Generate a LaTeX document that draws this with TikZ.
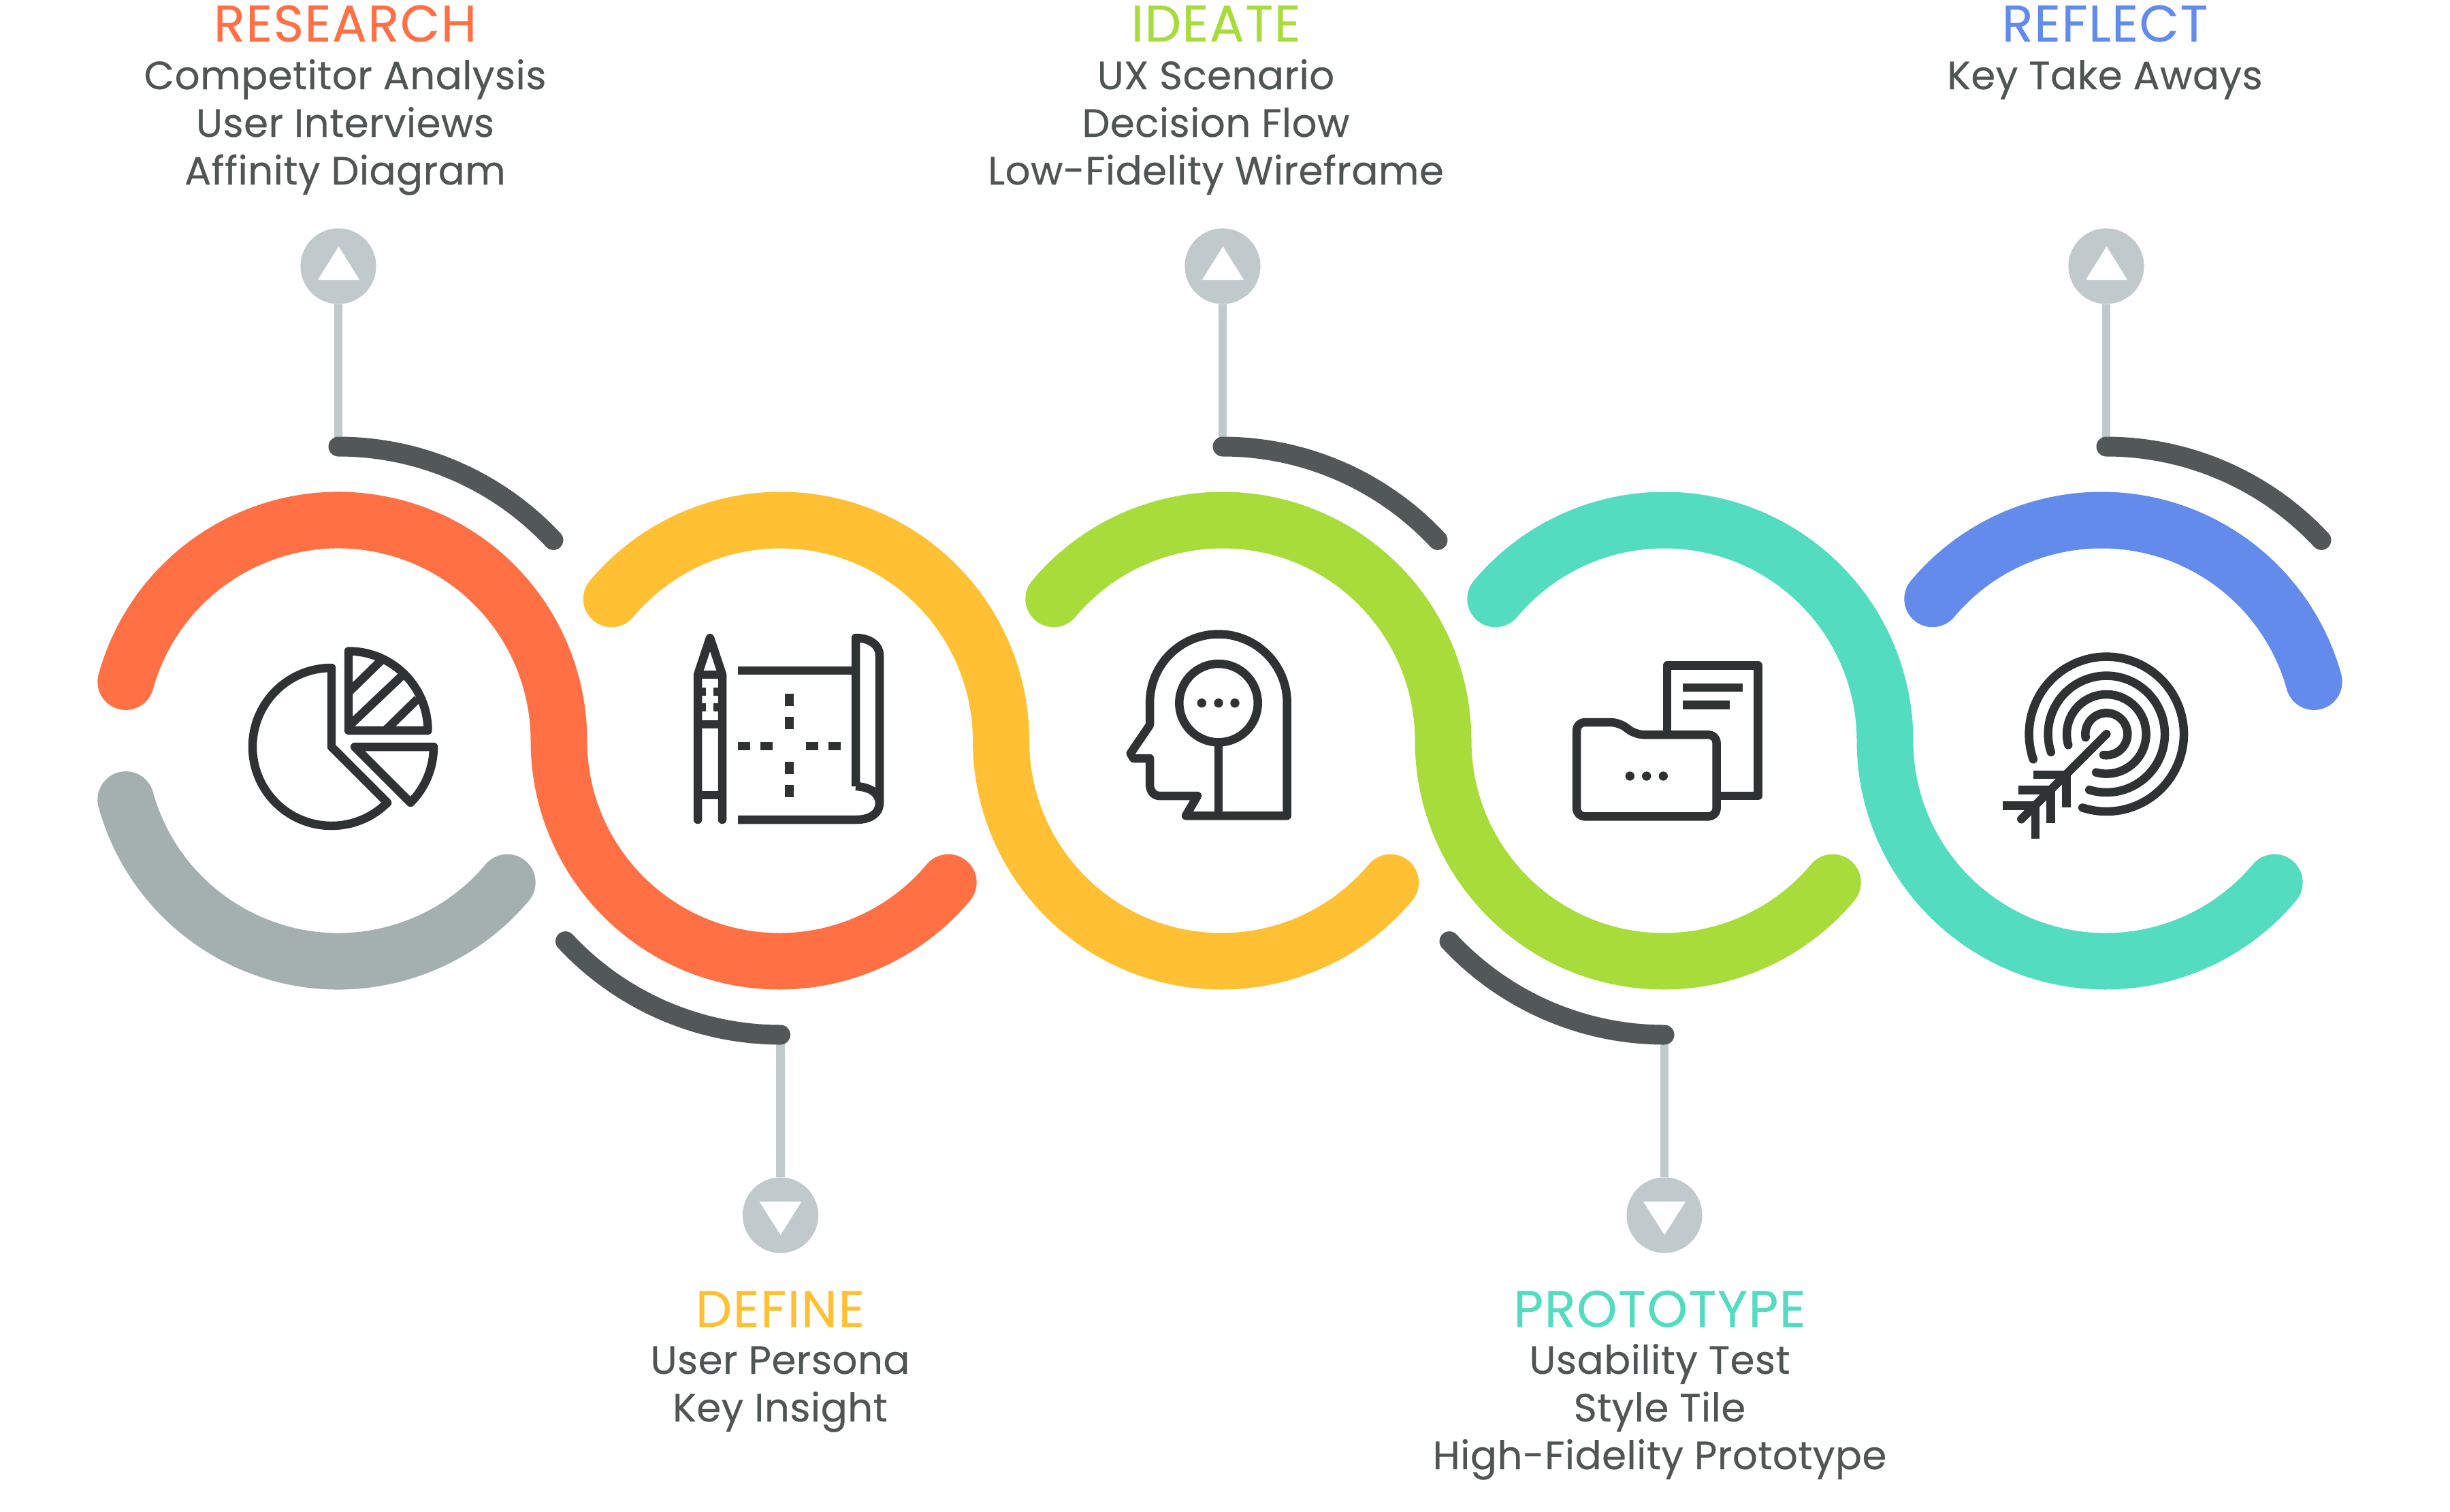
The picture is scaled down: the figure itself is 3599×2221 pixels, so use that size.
\documentclass[tikz,border=0pt]{standalone}
\usepackage{fontspec}
\setmainfont{Poppins}
\definecolor{cOrange}{HTML}{FF7145}
\definecolor{cYellow}{HTML}{FFC033}
\definecolor{cGreen}{HTML}{A8DC3B}
\definecolor{cTeal}{HTML}{54DCC0}
\definecolor{cBlue}{HTML}{628BEB}
\definecolor{cGrey}{HTML}{A4AFAF}
\definecolor{cDark}{HTML}{525857}
\definecolor{cStem}{HTML}{C0C9CB}
\definecolor{cIcon}{HTML}{2E3233}
\definecolor{cText}{HTML}{4F5554}
\tikzset{
  band/.style={line width=23.6pt,line cap=round},
  darkarc/.style={draw=cDark,line width=8.25pt,line cap=round},
  stem/.style={draw=cStem,line width=3.6pt},
  badge/.style={circle,fill=cStem,minimum size=31.6pt,inner sep=0pt},
  icon/.style={draw=cIcon,line width=3.55pt,line join=round},
  iconround/.style={icon,line cap=round},
  idot/.style={fill=cIcon},
  headtxt/.style={anchor=base,inner sep=0pt,font=\fontsize{21.5}{24}\selectfont\addfontfeature{LetterSpace=2,FakeBold=0.3}},
  bodytxt/.style={anchor=base,inner sep=0pt,text=cText,font=\fontsize{16.45}{20}\selectfont\addfontfeature{LetterSpace=0.8,FakeBold=0.3}},
}
\begin{document}
\begin{tikzpicture}[x=0.01cm,y=-0.01cm]
\useasboundingbox (0,0) rectangle (3599,2221);
\fill[white] (0,0) rectangle (3599,2221);
% ring centres
\coordinate (c1) at (497,1088);
\coordinate (c2) at (1146.5,1088);
\coordinate (c3) at (1796,1088);
\coordinate (c4) at (2445,1088);
\coordinate (c5) at (3087,1088);
% badges and stems
\node[badge] (b1) at (497,391) {};
\node[badge] (b3) at (1796,391) {};
\node[badge] (b5) at (3094,391) {};
\node[badge] (b2) at (1146.5,1785) {};
\node[badge] (b4) at (2445,1785) {};
\coordinate (d1) at (497,656);
\coordinate (d3) at (1796,656);
\coordinate (d5) at (3094,656);
\coordinate (d2) at (1146.5,1520);
\coordinate (d4) at (2445,1520);
\foreach \n in {1,2,3,4,5} \draw[stem] (b\n) -- (d\n);
\foreach \n in {1,3,5} \fill[white] (b\n) ++(-30,20) -- ++(61,0) -- ++(-30.5,-49) -- cycle;
\foreach \n in {2,4} \fill[white] (b\n) ++(-31,-20) -- ++(62,0) -- ++(-31,49) -- cycle;
% dark arcs
\foreach \n in {1,3,5} \draw[darkarc] (d\n) arc[start angle=-90,end angle=-43,radius=432];
\foreach \n in {2,4} \draw[darkarc] (d\n) arc[start angle=90,end angle=137,radius=432];
% bands
\draw[band,cGrey] (c1) ++(164.5:324) arc[start angle=164.5,end angle=40,radius=324];
\draw[band,cOrange] (c1) ++(-164.5:324) arc[start angle=-164.5,end angle=0,radius=324] arc[start angle=180,end angle=40,radius=324];
\draw[band,cYellow] (c2) ++(-140:324) arc[start angle=-140,end angle=0,radius=324] arc[start angle=180,end angle=40,radius=324];
\draw[band,cGreen] (c3) ++(-140:324) arc[start angle=-140,end angle=0,radius=324] arc[start angle=180,end angle=40,radius=324];
\draw[band,cTeal] (c4) ++(-140:324) arc[start angle=-140,end angle=0,radius=324] arc[start angle=180,end angle=40,radius=324];
\draw[band,cBlue] (c5) ++(-140:324) arc[start angle=-140,end angle=-15.5,radius=324];
% pie icon
\draw[icon] (487,1097) -- (487,981) arc[start angle=-90,end angle=-315,radius=116] -- cycle;
\draw[icon] (512,1073) -- (512,956.5) arc[start angle=-90,end angle=0,radius=116.5] -- cycle;
\draw[icon] (512,1017) -- (560,970);
\draw[icon] (512,1067) -- (590,993);
\draw[icon] (567,1072) -- (613,1027);
\draw[icon] (521,1097) -- (637,1097) arc[start angle=0,end angle=45,radius=116] -- cycle;
% plan icon
\draw[iconround] (1025,1204) -- (1025,991) -- (1043,937) -- (1061,991) -- (1061,1204);
\draw[icon] (1025,991) -- (1061,991) (1025,1064) -- (1061,1064) (1025,1168) -- (1061,1168);
\draw[icon] (1025,1016) -- (1037,1016) (1061,1016) -- (1048,1016) (1025,1039) -- (1037,1039) (1061,1039) -- (1048,1039);
\draw[icon] (1084,985) -- (1257,985);
\draw[icon] (1257,1155) -- (1257,937) .. controls (1278,937) and (1292,948) .. (1292,962) -- (1292,1180) .. controls (1292,1195) and (1278,1204) .. (1258,1204) -- (1084,1204);
\draw[icon] (1257,1155) .. controls (1278,1156) and (1292,1165) .. (1292,1180);
\draw[icon] (1159.5,1019) -- (1159.5,1037) (1159.5,1053) -- (1159.5,1071) (1159.5,1119) -- (1159.5,1137) (1159.5,1153) -- (1159.5,1171);
\draw[icon] (1084,1096) -- (1102,1096) (1117,1096) -- (1135,1096) (1184,1096) -- (1202,1096) (1217,1096) -- (1235,1096);
% head icon
\draw[icon] (1890.7,1198.3) -- (1890.7,1032.3) arc[start angle=0,end angle=-180,radius=100.8] -- (1689,1065) -- (1660.7,1106.7) -- (1665,1114) -- (1689,1114) -- (1689,1151.7) .. controls (1689,1162) and (1695,1169) .. (1703,1169) -- (1759,1169) -- (1742,1198.3) -- cycle;
\draw[icon] (1790,1032.7) circle[radius=57.7];
\draw[icon] (1790,1090) -- (1790,1198.3);
\fill[idot] (1765.3,1032.7) circle[radius=6.7] (1790,1032.7) circle[radius=6.7] (1814,1032.7) circle[radius=6.7];
% folder icon
\draw[icon] (2449,1079) -- (2449,977.7) -- (2582.7,977.7) -- (2582.7,1169) -- (2522,1169);
\draw[icon] (2472.3,1010) -- (2560,1010) (2472.3,1035.7) -- (2540.7,1035.7);
\draw[icon,rounded corners=0.12cm] (2316,1199.3) -- (2316,1061) -- (2378,1061) -- (2403,1079.3) -- (2521.7,1079.3) -- (2521.7,1199.3) -- cycle;
\fill[idot] (2394.3,1140) circle[radius=6.7] (2418.7,1140) circle[radius=6.7] (2443.3,1140) circle[radius=6.7];
% target icon
\coordinate (tg) at (3094.3,1078.3);
\draw[iconround] (tg) ++(161:113.7) arc[start angle=161,end angle=468,radius=113.7];
\draw[iconround] (tg) ++(162:85.7) arc[start angle=162,end angle=467,radius=85.7];
\draw[iconround] (tg) ++(164:58.3) arc[start angle=164,end angle=465,radius=58.3];
\draw[iconround] (tg) ++(171:31) arc[start angle=171,end angle=458,radius=31];
\draw[iconround] (tg) -- (2969.3,1203.3);
\draw[icon,line join=miter] (2987.3,1138) -- (3035.3,1138) -- (3035.3,1186);
\draw[icon,line join=miter] (2964.7,1160.7) -- (3012.7,1160.7) -- (3012.7,1208.7);
\draw[icon,line join=miter] (2941.7,1183.3) -- (2990,1183.3) -- (2990,1231.7);
% texts
\node[headtxt,text=cOrange] (t1) at (507,61) {RESEARCH};
\node[bodytxt] (t1a) at (507,131) {Competitor Analysis};
\node[bodytxt] (t1b) at (507,201) {User Interviews};
\node[bodytxt] (t1c) at (507,271) {Affinity Diagram};
\node[headtxt,text=cGreen] (t3) at (1786,61) {IDEATE};
\node[bodytxt] (t3a) at (1786,131) {UX Scenario};
\node[bodytxt] (t3b) at (1786,201) {Decision Flow};
\node[bodytxt] (t3c) at (1786,271) {Low-Fidelity Wireframe};
\node[headtxt,text=cBlue] (t5) at (3092,61) {REFLECT};
\node[bodytxt] (t5a) at (3092,131) {Key Take Aways};
\node[headtxt,text=cYellow] (t2) at (1146,1949) {DEFINE};
\node[bodytxt] (t2a) at (1146,2018) {User Persona};
\node[bodytxt] (t2b) at (1146,2088) {Key Insight};
\node[headtxt,text=cTeal] (t4) at (2438,1949) {PROTOTYPE};
\node[bodytxt] (t4a) at (2438,2018) {Usability Test};
\node[bodytxt] (t4b) at (2438,2088) {Style Tile};
\node[bodytxt] (t4c) at (2438,2158) {High-Fidelity Prototype};
\end{tikzpicture}
\end{document}
